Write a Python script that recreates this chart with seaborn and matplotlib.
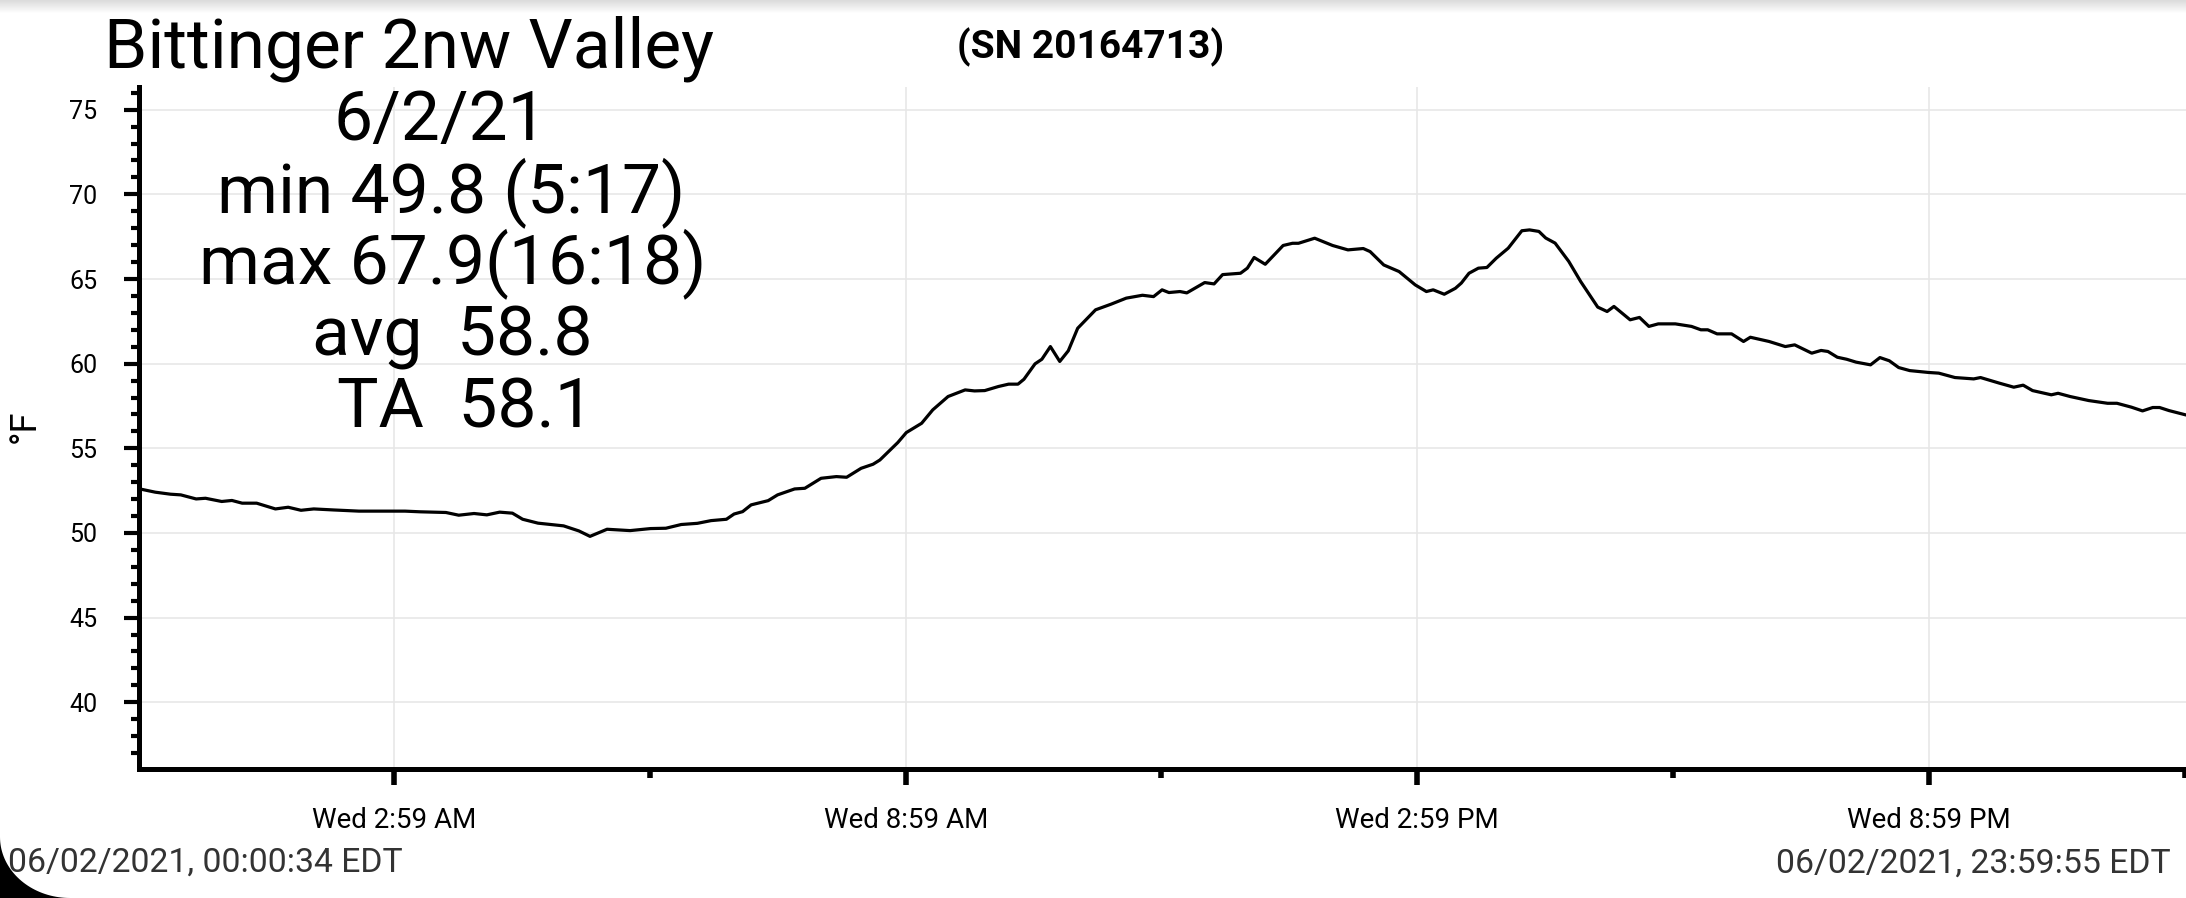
import numpy as np
import pandas as pd
import matplotlib
matplotlib.use("Agg")
import matplotlib.pyplot as plt
import seaborn as sns
from matplotlib.ticker import FixedLocator, MultipleLocator, FixedFormatter
from matplotlib.patches import Polygon

# ---------------- data ----------------
hours = [0.01, 0.18, 0.36, 0.48, 0.66, 0.77, 0.96, 1.08, 1.20, 1.37, 1.59, 1.74, 1.89, 2.04,
         2.27, 2.57, 3.11, 3.29, 3.59, 3.74, 3.92, 4.07, 4.22, 4.37, 4.49, 4.67, 4.97, 5.15,
         5.28, 5.48, 5.75, 5.99, 6.17, 6.35, 6.54, 6.70, 6.88, 6.97, 7.07, 7.17, 7.37, 7.48,
         7.68, 7.80, 7.99, 8.17, 8.29, 8.46, 8.60, 8.68, 8.82, 8.89, 8.99, 9.17, 9.30, 9.48,
         9.68, 9.79, 9.91, 10.07, 10.19, 10.30, 10.37, 10.50, 10.58, 10.68, 10.79, 10.89,
         11.00, 11.21, 11.39, 11.57, 11.76, 11.89, 11.99, 12.07, 12.20, 12.28, 12.49, 12.60,
         12.70, 12.91, 12.99, 13.07, 13.20, 13.41, 13.52, 13.59, 13.78, 13.99, 14.17, 14.35,
         14.43, 14.59, 14.77, 14.96, 15.09, 15.17, 15.30, 15.43, 15.50, 15.59, 15.70, 15.80,
         15.91, 16.05, 16.21, 16.30, 16.41, 16.49, 16.60, 16.76, 16.90, 17.10, 17.21, 17.29,
         17.48, 17.59, 17.70, 17.81, 18.01, 18.20, 18.31, 18.39, 18.50, 18.67, 18.81, 18.89,
         19.11, 19.30, 19.41, 19.61, 19.72, 19.80, 19.91, 20.02, 20.13, 20.30, 20.41, 20.52,
         20.63, 20.76, 20.98, 21.10, 21.29, 21.51, 21.59, 21.81, 21.98, 22.09, 22.20, 22.42,
         22.50, 22.64, 22.86, 23.08, 23.19, 23.36, 23.49, 23.61, 23.69, 23.80, 24.00]
temps_f = [52.59, 52.41, 52.29, 52.25, 52.01, 52.05, 51.86, 51.92, 51.76, 51.76, 51.42, 51.52,
           51.34, 51.42, 51.36, 51.29, 51.29, 51.25, 51.21, 51.05, 51.15, 51.07, 51.23, 51.17,
           50.81, 50.58, 50.42, 50.12, 49.80, 50.22, 50.14, 50.26, 50.28, 50.50, 50.57, 50.73,
           50.81, 51.12, 51.26, 51.66, 51.91, 52.25, 52.60, 52.64, 53.23, 53.33, 53.29, 53.82,
           54.06, 54.31, 55.00, 55.34, 55.93, 56.48, 57.27, 58.06, 58.45, 58.39, 58.41, 58.65,
           58.79, 58.79, 59.08, 59.99, 60.26, 61.01, 60.13, 60.76, 62.09, 63.18, 63.51, 63.87,
           64.04, 63.96, 64.36, 64.20, 64.26, 64.18, 64.79, 64.71, 65.26, 65.34, 65.64, 66.27,
           65.87, 66.98, 67.11, 67.11, 67.41, 66.98, 66.72, 66.80, 66.62, 65.83, 65.44, 64.65,
           64.26, 64.36, 64.10, 64.45, 64.76, 65.34, 65.64, 65.68, 66.23, 66.82, 67.85, 67.90,
           67.81, 67.42, 67.12, 66.04, 64.85, 63.34, 63.08, 63.38, 62.59, 62.73, 62.20, 62.35,
           62.35, 62.20, 62.00, 62.00, 61.76, 61.76, 61.31, 61.56, 61.31, 61.01, 61.11, 60.62,
           60.78, 60.72, 60.38, 60.26, 60.09, 59.93, 60.36, 60.17, 59.77, 59.59, 59.48, 59.44,
           59.18, 59.10, 59.18, 58.85, 58.61, 58.73, 58.41, 58.16, 58.25, 58.06, 57.82, 57.66,
           57.66, 57.43, 57.21, 57.41, 57.41, 57.23, 56.97]

x_major_ticks = [2.983, 8.983, 14.983, 20.983]
x_major_labels = ["Wed 2:59 AM", "Wed 8:59 AM", "Wed 2:59 PM", "Wed 8:59 PM"]
x_minor_ticks = [5.983, 11.983, 17.983, 23.983]
y_major_ticks = [40, 45, 50, 55, 60, 65, 70, 75]
y_label = "°F"

title_lines = ["Bittinger 2nw Valley", "6/2/21", "min 49.8 (5:17)",
               "max 67.9(16:18)", "avg  58.8", "TA  58.1"]
serial_text = "(SN 20164713)"
start_label = "06/02/2021, 00:00:34 EDT"
end_label = "06/02/2021, 23:59:55 EDT"

# ---------------- style ----------------
sns.set_style("white")
plt.rcParams["font.family"] = ["Roboto", "DejaVu Sans"]

W, H = 2186, 898
fig = plt.figure(figsize=(W / 100, H / 100), dpi=100)
fig.patch.set_facecolor("white")

ax_left, ax_right, ax_top, ax_bottom = 139, 2186, 87, 769
ax = fig.add_axes([ax_left / W, 1 - ax_bottom / H,
                   (ax_right - ax_left) / W, (ax_bottom - ax_top) / H])

df = pd.DataFrame({"hour": hours, "temp": temps_f})
sns.lineplot(data=df, x="hour", y="temp", ax=ax, color="black", linewidth=2.3)

ax.set_xlim(-0.01, 24.0)
ax.set_ylim(36.06, 76.34)

# spines
for side in ["top", "right"]:
    ax.spines[side].set_visible(False)
for side in ["left", "bottom"]:
    ax.spines[side].set_color("black")
    ax.spines[side].set_linewidth(3.6)

# ticks
ax.xaxis.set_major_locator(FixedLocator(x_major_ticks))
ax.xaxis.set_major_formatter(FixedFormatter(x_major_labels))
ax.xaxis.set_minor_locator(FixedLocator(x_minor_ticks))
ax.yaxis.set_major_locator(FixedLocator(y_major_ticks))
ax.yaxis.set_minor_locator(MultipleLocator(1))

ax.tick_params(axis="y", which="major", direction="out", length=11, width=3.0,
               pad=19, labelsize=18, colors="black", left=True)
ax.tick_params(axis="y", which="minor", direction="out", length=6, width=3.0, left=True,
               color="black")
ax.tick_params(axis="x", which="major", direction="out", length=11.5, width=4.0,
               pad=16, labelsize=20, colors="black", bottom=True)
ax.tick_params(axis="x", which="minor", direction="out", length=6.5, width=4.0, bottom=True,
               color="black")

ax.grid(True, which="major", color="#e6e6e6", linewidth=1.1)
ax.set_axisbelow(True)

ax.set_xlabel("")
ax.set_ylabel(y_label, fontsize=26, color="black")
ax.yaxis.label.set_va("center")
ax.yaxis.set_label_coords((25 - ax_left) / (ax_right - ax_left), (ax_bottom - 426) / (ax_bottom - ax_top))

# ---------------- text block ----------------
text_pos = [(409, 68), (440, 140), (451, 212), (453, 283), (452, 355), (465, 427)]
for s, (cx, by) in zip(title_lines, text_pos):
    fig.text(cx / W, 1 - by / H, s, ha="center", va="baseline", fontsize=50, color="black")

fig.text(1091 / W, 1 - 58 / H, serial_text, ha="center", va="baseline",
         fontsize=28, fontweight="bold", color="black")

fig.text(8 / W, 1 - 872 / H, start_label, ha="left", va="baseline",
         fontsize=24.3, color="#333333")
fig.text(2171 / W, 1 - 873 / H, end_label, ha="right", va="baseline",
         fontsize=24.3, color="#333333")

# ---------------- screenshot decorations ----------------
# soft grey shadow at the very top
ax_sh = fig.add_axes([0, 1 - 14 / H, 1, 14 / H])
grad = np.linspace(0.86, 1.0, 14).reshape(-1, 1)
ax_sh.imshow(grad, cmap="gray", vmin=0, vmax=1, aspect="auto", interpolation="bilinear")
ax_sh.axis("off")

# rounded black corner, bottom left
t = np.linspace(np.pi, np.pi / 2, 40)
cxp, cyp, rx, ry = 70, 837, 70, 61
arc = [((cxp + rx * np.cos(a)) / W, 1 - (cyp + ry * np.sin(a)) / H) for a in t]
corner = Polygon([(0, 0)] + arc + [(0, 0)], closed=True, facecolor="black",
                 edgecolor="none", transform=fig.transFigure, zorder=10)
fig.add_artist(corner)

fig.savefig("out.png", dpi=100, facecolor="white")
